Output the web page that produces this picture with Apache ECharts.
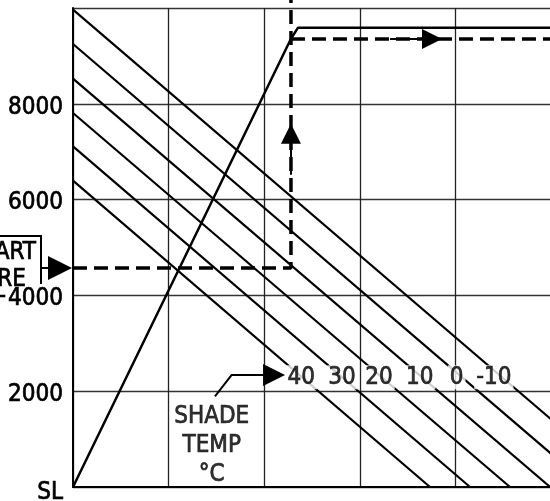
<!DOCTYPE html>
<html><head><meta charset="utf-8">
<script src="https://cdn.jsdelivr.net/npm/echarts@6/dist/echarts.min.js"></script>
<style>html,body{margin:0;padding:0;background:#fff}#c{width:550px;height:501px}</style>
</head><body><div id="c"></div>
<script>
const FONT = "'DejaVu Sans Condensed', 'DejaVu Sans', sans-serif";

// Y axis ticks (pressure altitude, ft)
const yTickValues = [0, 2000, 4000, 6000, 8000, 10000];
const yTickLabels = ['SL', '2000', '4000', '6000', '8000', ''];

// Shade temperature guide lines (°C): start point, end point, label point
const temps = ['40', '30', '20', '10', '0', '-10'];
const tempStart = [[0, 6395], [0, 7111], [0, 7808], [0, 8524], [0, 9248], [0, 9965]];
const tempEnd = [[3.734, 0], [4.153, 0], [4.571, 0], [4.990, 0], [5, 698], [5, 1415]];
const tempLabelPos = [[2.388, 2290], [2.814, 2290], [3.201, 2290], [3.627, 2290], [4.014, 2290], [4.402, 2290]];

// Climb curve
const climbLine = [[0, 0], [2.280, 9359], [2.354, 9589], [5, 9589]];

// Example path (dashed)
const examplePathA = [[0, 4572], [2.280, 4572], [2.280, 10250]];
const examplePathB = [[2.280, 9353], [5, 9353]];

// Arrows (shaft start -> head centre)
const arrowStart = [[-0.335, 4572], [-0.136, 4572]];
const arrowUp = [[2.280, 6520], [2.280, 7376]];
const arrowRight = [[3.316, 9353], [3.755, 9353]];
const leaderLine = [[1.485, 1891], [1.660, 2340], [2.0, 2340]];
const leaderArrow = [[1.95, 2340], [2.103, 2340]];

// Annotation
const shadeTempText = 'SHADE\nTEMP\n°C';
const shadeTempPos = [1.451, 870];

const chart = echarts.init(document.getElementById('c'), null, {renderer: 'canvas'});

const textStroke = {textBorderColor: '#000', textBorderWidth: 0.7};
const series = [];
temps.forEach((t, i) => {
  series.push({
    type: 'line', data: [tempStart[i], tempEnd[i]], symbol: 'none', silent: true,
    lineStyle: {color: '#000', width: 2.2}, z: 2
  });
});
series.push({
  type: 'scatter', symbolSize: 0, z: 5, silent: true,
  data: tempLabelPos.map((p, i) => ({value: p, name: temps[i]})),
  label: Object.assign({show: true, position: 'inside', formatter: p => p.name, color: '#000',
    fontFamily: FONT, fontSize: 24, backgroundColor: '#fff', padding: [0, 2]}, textStroke)
});
series.push({type: 'line', data: climbLine, symbol: 'none', lineStyle: {color: '#000', width: 2.5}, z: 3});
series.push({type: 'line', data: examplePathA, symbol: 'none', clip: false,
  lineStyle: {color: '#000', width: 3.5, type: [14, 7]}, z: 4});
series.push({type: 'line', data: examplePathB, symbol: 'none',
  lineStyle: {color: '#000', width: 3.5, type: [14, 7]}, z: 4});
series.push({type: 'line', data: leaderLine, symbol: 'none', clip: false,
  lineStyle: {color: '#000', width: 2}, z: 4});
function arrow(coords, size) {
  return {type: 'lines', coordinateSystem: 'cartesian2d', clip: false, z: 6, silent: true,
    symbol: ['none', 'triangle'], symbolSize: size,
    lineStyle: {color: '#000', width: 2, opacity: 1, curveness: 0}, data: [{coords: coords}]};
}
series.push(arrow(arrowStart, [8, 24]));
series.push(arrow(arrowUp, [10, 20]));
series.push(arrow(arrowRight, [9, 20]));
series.push(arrow(leaderArrow, [8, 22]));
series.push({
  type: 'scatter', symbolSize: 0, z: 5, silent: true, data: [shadeTempPos],
  label: Object.assign({show: true, position: 'inside', formatter: shadeTempText, color: '#000',
    fontFamily: FONT, fontSize: 24, lineHeight: 29, align: 'center'}, textStroke)
});

const gfont = '24px ' + FONT;
const tickRich = Object.assign({color: '#000', fontFamily: FONT, fontSize: 24, padding: [7, 0, 0, 0]}, textStroke);
chart.setOption({
  animation: false,
  backgroundColor: '#fff',
  grid: {left: 73, right: -1, top: 8, bottom: 14, containLabel: false, outerBoundsMode: 'none'},
  xAxis: {type: 'value', min: 0, max: 5, interval: 1,
    axisLine: {show: true, onZero: false, lineStyle: {color: '#000', width: 2}},
    axisTick: {show: false}, axisLabel: {show: false},
    splitLine: {show: true, lineStyle: {color: '#222', width: 1.3}}},
  yAxis: {type: 'value', min: 0, max: 10000, interval: 2000,
    axisLine: {show: true, lineStyle: {color: '#000', width: 2}},
    axisTick: {show: false},
    axisLabel: {margin: 10, color: '#000', fontFamily: FONT, fontSize: 24,
      rich: {v: tickRich, s: Object.assign({}, tickRich, {padding: [11, 0, 0, 0]})},
      formatter: v => {
        const t = yTickLabels[yTickValues.indexOf(v)] ?? '';
        if (!t) return '';
        return v === 0 ? '{s|' + t + '}' : '{v|' + t + '}';
      }},
    splitLine: {show: true, lineStyle: {color: '#333', width: 1.3}}},
  graphic: [
    {type: 'polyline', shape: {points: [[-2, 236], [41, 236], [41, 284]]},
      style: {stroke: '#000', lineWidth: 2, fill: null}},
    {type: 'text', x: 36, y: 253, style: {text: 'START', font: gfont, fill: '#000', stroke: '#000', lineWidth: 0.7, align: 'right', verticalAlign: 'middle'}},
    {type: 'text', x: 26, y: 280, style: {text: 'PRESSURE', font: gfont, fill: '#000', stroke: '#000', lineWidth: 0.7, align: 'right', verticalAlign: 'middle'}},
    {type: 'text', x: 6, y: 297, style: {text: '-', font: gfont, fill: '#000', stroke: '#000', lineWidth: 0.7, align: 'right', verticalAlign: 'middle'}}
  ],
  series: series
});
</script></body></html>
